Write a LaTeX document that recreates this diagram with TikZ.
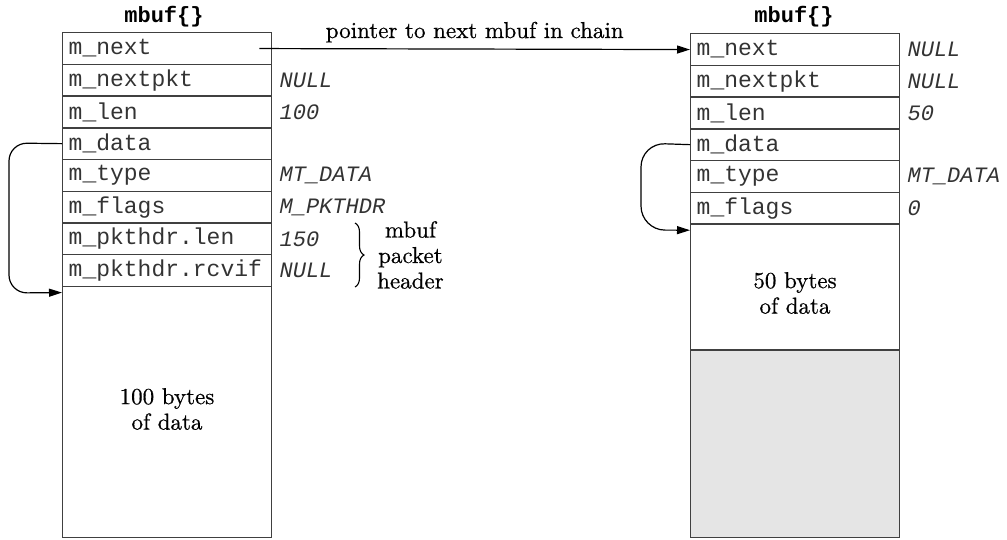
\documentclass[tikz,border=0pt]{standalone}
\usepackage{fontspec}
\setmainfont{lmroman10-regular}[Extension=.otf, FakeBold=0.6]
\setmonofont{Liberation Mono}
\usetikzlibrary{arrows.meta,decorations.pathreplacing}
\begin{document}
\begin{tikzpicture}[x=1pt,y=-1pt,
  fld/.style={draw=black!75, line width=1.4pt, minimum width=209pt, minimum height=31.7pt,
    anchor=north west, inner xsep=6pt, inner ysep=0pt, text width=197pt, align=left,
    text=black!80, font=\ttfamily\fontsize{23}{23}\selectfont},
  val/.style={anchor=west, inner sep=0pt, text=black!80, font=\ttfamily\itshape\fontsize{22}{22}\selectfont},
  ttl/.style={inner sep=0pt, font=\ttfamily\bfseries\fontsize{22}{22}\selectfont},
  body/.style={draw=black!75, line width=1.4pt, anchor=north west, minimum width=209pt, inner sep=0pt},
  txt/.style={inner sep=0pt, align=center, font=\fontsize{23}{25.5}\selectfont},
  ptr/.style={line width=1.2pt, -{Triangle[length=13pt,width=8pt]}}]
\useasboundingbox (0,0) rectangle (1007,539);
% left mbuf
\node[fld] (lnext)    at (62,32)     {m\_next};
\node[fld] (lnextpkt) at (62,63.7)   {m\_nextpkt};
\node[fld] (llen)     at (62,95.4)   {m\_len};
\node[fld] (ldata)    at (62,127.1)  {m\_data};
\node[fld] (ltype)    at (62,158.8)  {m\_type};
\node[fld] (lflags)   at (62,190.5)  {m\_flags};
\node[fld] (lplen)    at (62,222.2)  {m\_pkthdr.len};
\node[fld] (lrcvif)   at (62,253.9)  {m\_pkthdr.rcvif};
\node[body, minimum height=251pt] (lbody) at (62,285.6) {};
\node[txt] (ltext) at (167,409) {100 bytes\\of data};
\node[ttl] (ltitle) at (164,17) {mbuf\{\}};
\node[val] (vlnextpkt) at ([xshift=7pt]lnextpkt.east) {NULL};
\node[val] (vllen)     at ([xshift=7pt]llen.east)     {100};
\node[val] (vltype)    at ([xshift=7pt]ltype.east)    {MT\_DATA};
\node[val] (vlflags)   at ([xshift=7pt]lflags.east)   {M\_PKTHDR};
\node[val] (vlplen)    at ([xshift=7pt]lplen.east)    {150};
\node[val] (vlrcvif)   at ([xshift=7pt]lrcvif.east)   {NULL};
% brace
\coordinate (btop) at (355,223);
\coordinate (bbot) at (355,287);
\draw[line width=1.1pt, decorate, decoration={brace, amplitude=9pt}] (btop) -- (bbot);
\node[txt, anchor=west] (hdr) at (377,255) {mbuf\\packet\\header};
% right mbuf
\node[fld] (rnext)    at (690,33)     {m\_next};
\node[fld] (rnextpkt) at (690,64.7)   {m\_nextpkt};
\node[fld] (rlen)     at (690,96.4)   {m\_len};
\node[fld] (rdata)    at (690,128.1)  {m\_data};
\node[fld] (rtype)    at (690,159.8)  {m\_type};
\node[fld] (rflags)   at (690,191.5)  {m\_flags};
\node[body, minimum height=126pt] (rbody) at (690,223.2) {};
\node[body, minimum height=187.5pt, fill=black!10] (rfree) at (690,349.2) {};
\node[txt] (rtext) at (795,293) {50 bytes\\of data};
\node[ttl] (rtitle) at (794,17) {mbuf\{\}};
\node[val] (vrnext)    at ([xshift=7pt]rnext.east)    {NULL};
\node[val] (vrnextpkt) at ([xshift=7pt]rnextpkt.east) {NULL};
\node[val] (vrlen)     at ([xshift=7pt]rlen.east)     {50};
\node[val] (vrtype)    at ([xshift=7pt]rtype.east)    {MT\_DATA};
\node[val] (vrflags)   at ([xshift=7pt]rflags.east)   {0};
% pointers
\draw[ptr] ([xshift=-13pt]lnext.east) -- node[txt, above=6pt] (plabel) {pointer to next mbuf in chain} (rnext.west);
\draw[ptr, rounded corners=18pt] (ldata.west) -- (9,143) -- (9,293) -- ([yshift=-7pt]lbody.north west);
\draw[ptr, rounded corners=24pt] (rdata.west) -- (641,143) -- (641,230) -- ([yshift=-7pt]rbody.north west);
\end{tikzpicture}
\end{document}
